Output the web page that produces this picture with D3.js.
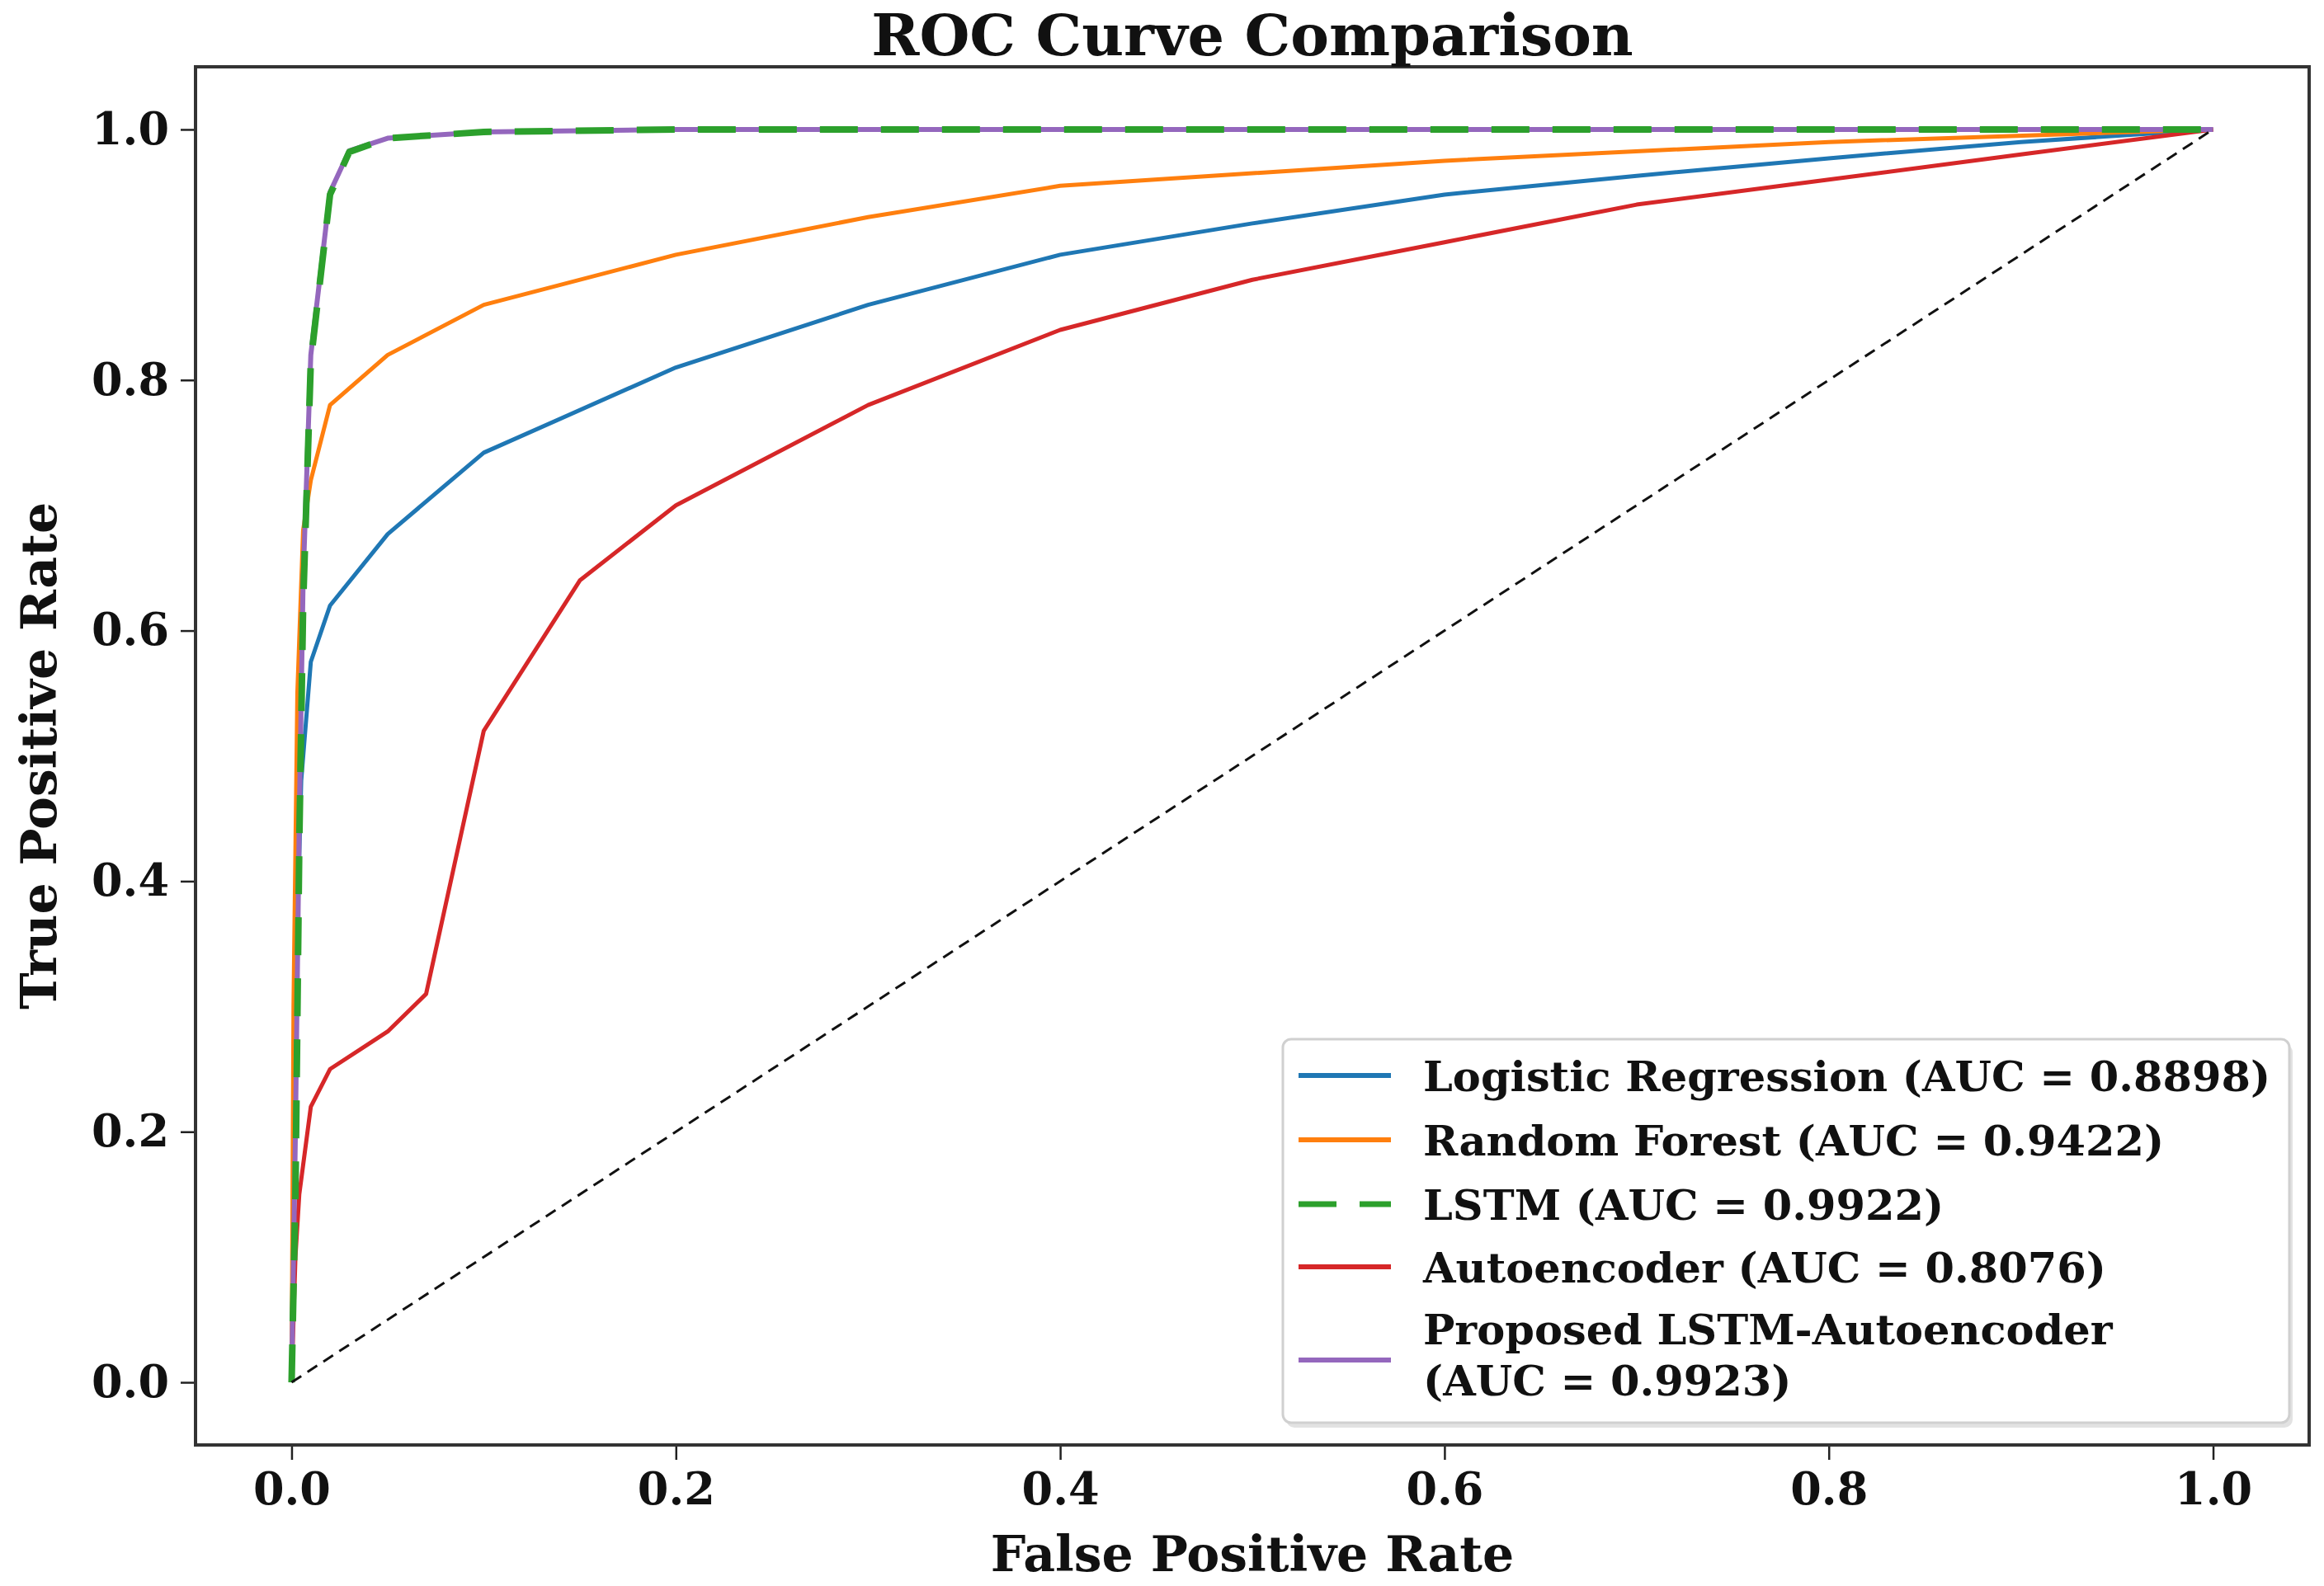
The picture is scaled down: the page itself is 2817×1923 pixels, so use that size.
<!DOCTYPE html>
<html>
<head>
<meta charset="utf-8">
<script src="https://cdn.jsdelivr.net/npm/d3@7"></script>
<style>
  body { margin: 0; background: #fff; }
  svg text { font-family: "DejaVu Serif", serif; font-weight: bold; fill: #111; }
</style>
</head>
<body>
<svg id="chart"></svg>
<script>
const w = 2817,
h = 1923,
frame = { left: 237, top: 81, right: 2799, bottom: 1752 };

// series: false positive rate / true positive rate
const lrFpr = [0, 0.002, 0.005, 0.01, 0.02, 0.05, 0.1, 0.2, 0.3, 0.4, 0.5, 0.6, 0.7, 0.8, 0.9, 1];
const lrTpr = [0, 0.3, 0.48, 0.575, 0.62, 0.677, 0.742, 0.81, 0.86, 0.9, 0.925, 0.948, 0.963, 0.977, 0.99, 1];

const rfFpr = [0, 0.001, 0.003, 0.006, 0.01, 0.02, 0.05, 0.1, 0.2, 0.3, 0.4, 0.6, 0.8, 1];
const rfTpr = [0, 0.3, 0.55, 0.68, 0.72, 0.78, 0.82, 0.86, 0.9, 0.93, 0.955, 0.975, 0.99, 1];

const lstmFpr = [0, 0.002, 0.004, 0.006, 0.01, 0.02, 0.03, 0.05, 0.1, 0.2, 1];
const lstmTpr = [0, 0.15, 0.43, 0.62, 0.815, 0.948, 0.982, 0.993, 0.998, 1, 1];

const aeFpr = [0, 0.002, 0.004, 0.01, 0.02, 0.05, 0.07, 0.1, 0.15, 0.2, 0.3, 0.4, 0.5, 0.6, 0.7, 0.8, 0.9, 1];
const aeTpr = [0, 0.1, 0.15, 0.22, 0.25, 0.28, 0.31, 0.52, 0.64, 0.7, 0.78, 0.84, 0.88, 0.91, 0.94, 0.96, 0.98, 1];

const propFpr = [0, 0.002, 0.004, 0.006, 0.01, 0.02, 0.03, 0.05, 0.1, 0.2, 1];
const propTpr = [0, 0.2, 0.45, 0.64, 0.82, 0.95, 0.983, 0.993, 0.998, 1, 1];

const chanceFpr = [0, 1];
const chanceTpr = [0, 1];

const labels = [
  "Logistic Regression (AUC = 0.8898)",
  "Random Forest (AUC = 0.9422)",
  "LSTM (AUC = 0.9922)",
  "Autoencoder (AUC = 0.8076)",
  "Proposed LSTM-Autoencoder\n(AUC = 0.9923)"
];
const colors = ["#1f77b4", "#ff7f0e", "#2ca02c", "#d62728", "#9467bd"];
const xTicks = [0, 0.2, 0.4, 0.6, 0.8, 1.0];
const yTicks = [0, 0.2, 0.4, 0.6, 0.8, 1.0];

const series = [
  { fpr: lrFpr, tpr: lrTpr, width: 5, dash: null },
  { fpr: rfFpr, tpr: rfTpr, width: 5, dash: null },
  { fpr: lstmFpr, tpr: lstmTpr, width: 8, dash: "46,28" },
  { fpr: aeFpr, tpr: aeTpr, width: 5, dash: null },
  { fpr: propFpr, tpr: propTpr, width: 6, dash: null }
].map((s, i) => ({ ...s, label: labels[i], color: colors[i] }));

const x = d3.scaleLinear().domain([-0.05, 1.05]).range([frame.left, frame.right]);
const y = d3.scaleLinear().domain([-0.05, 1.05]).range([frame.bottom, frame.top]);

const svg = d3.select("#chart")
  .attr("width", w)
  .attr("height", h)
  .attr("viewBox", [0, 0, w, h]);

svg.append("rect").attr("width", w).attr("height", h).attr("fill", "#fff");

const line = d3.line().x(d => x(d[0])).y(d => y(d[1]));
const pts = s => s.fpr.map((f, i) => [f, s.tpr[i]]);

// curves: purple under the dashed green, like the original
const drawOrder = [0, 1, 3, 4, 2];
svg.append("g")
  .selectAll("path")
  .data(drawOrder.map(i => series[i]))
  .join("path")
  .attr("d", d => line(pts(d)))
  .attr("fill", "none")
  .attr("stroke", d => d.color)
  .attr("stroke-width", d => d.width)
  .attr("stroke-dasharray", d => d.dash)
  .attr("stroke-linejoin", "round");

svg.append("path")
  .attr("d", line(chanceFpr.map((f, i) => [f, chanceTpr[i]])))
  .attr("fill", "none")
  .attr("stroke", "#111")
  .attr("stroke-width", 3)
  .attr("stroke-dasharray", "14,9");

// axes
const fmt = d3.format(".1f");
const xAxis = svg.append("g")
  .attr("transform", `translate(0,${frame.bottom})`)
  .call(d3.axisBottom(x).tickValues(xTicks).tickFormat(fmt).tickSize(18).tickPadding(16));
const yAxis = svg.append("g")
  .attr("transform", `translate(${frame.left},0)`)
  .call(d3.axisLeft(y).tickValues(yTicks).tickFormat(fmt).tickSize(18).tickPadding(14));

[xAxis, yAxis].forEach(g => {
  g.select(".domain").remove();
  g.selectAll(".tick line").attr("stroke", "#222").attr("stroke-width", 2.5);
  g.selectAll(".tick text").style("font-size", "54px").attr("fill", "#111");
});

svg.append("rect")
  .attr("x", frame.left)
  .attr("y", frame.top)
  .attr("width", frame.right - frame.left)
  .attr("height", frame.bottom - frame.top)
  .attr("fill", "none")
  .attr("stroke", "#333")
  .attr("stroke-width", 4);

// titles
svg.append("text")
  .attr("x", (frame.left + frame.right) / 2)
  .attr("y", 67)
  .attr("text-anchor", "middle")
  .style("font-size", "70px")
  .text("ROC Curve Comparison");

svg.append("text")
  .attr("x", (frame.left + frame.right) / 2)
  .attr("y", 1905)
  .attr("text-anchor", "middle")
  .style("font-size", "60px")
  .text("False Positive Rate");

svg.append("text")
  .attr("transform", `translate(68,${(frame.top + frame.bottom) / 2}) rotate(-90)`)
  .attr("text-anchor", "middle")
  .style("font-size", "60px")
  .text("True Positive Rate");

// legend
const lg = { x: 1555, y: 1260, w: 1220, h: 465 };
const legend = svg.append("g");
legend.append("rect")
  .attr("x", lg.x + 4).attr("y", lg.y + 6)
  .attr("width", lg.w).attr("height", lg.h)
  .attr("rx", 10).attr("fill", "#e2e2e2");
legend.append("rect")
  .attr("x", lg.x).attr("y", lg.y)
  .attr("width", lg.w).attr("height", lg.h)
  .attr("rx", 10).attr("fill", "#fff")
  .attr("stroke", "#d0d0d0").attr("stroke-width", 3);

const baselines = [1323, 1401, 1479, 1555, 1630];
const items = legend.selectAll("g.item")
  .data(series)
  .join("g")
  .attr("class", "item");

items.append("line")
  .attr("x1", 1574).attr("x2", 1686)
  .attr("y1", (d, i) => i === 4 ? 1649 : baselines[i] - 19)
  .attr("y2", (d, i) => i === 4 ? 1649 : baselines[i] - 19)
  .attr("stroke", d => d.color)
  .attr("stroke-width", d => d.dash ? 7 : 6)
  .attr("stroke-dasharray", d => d.dash);

items.append("text")
  .attr("x", 1725)
  .attr("y", (d, i) => baselines[i])
  .style("font-size", "51px")
  .selectAll("tspan")
  .data(d => d.label.split("\n"))
  .join("tspan")
  .attr("x", 1725)
  .attr("dy", (t, j) => j === 0 ? 0 : 62)
  .text(t => t);
</script>
</body>
</html>
